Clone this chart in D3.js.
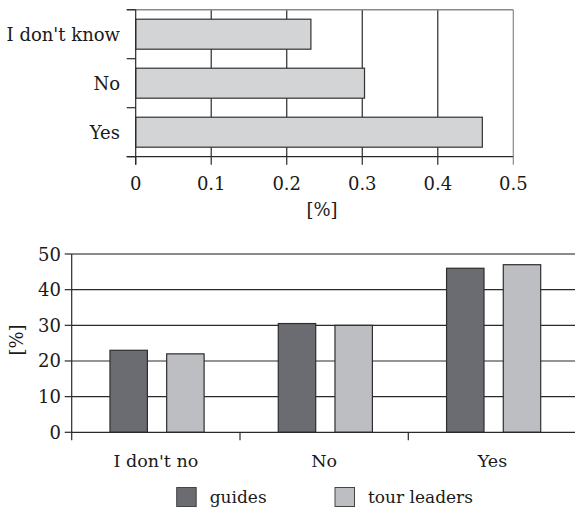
<!DOCTYPE html>
<html>
<head>
<meta charset="utf-8">
<script src="https://cdn.jsdelivr.net/npm/d3@7"></script>
<style>
  body { margin: 0; background: #fff; }
  svg { display: block; }
</style>
</head>
<body>
<svg id="chart" width="575" height="513"></svg>
<script>
// Answer shares (overall), as fractions
const answers = ["I don't know", "No", "Yes"];
const overallShare = [0.232, 0.303, 0.459];
const shareTicks = [0, 0.1, 0.2, 0.3, 0.4, 0.5];

// Answer shares by group, in percent
const groupCategories = ["I don't no", "No", "Yes"];
const seriesNames = ["guides", "tour leaders"];
const guidesPct = [23, 30.5, 46];
const tourLeadersPct = [22, 30, 47];
const pctTicks = [0, 10, 20, 30, 40, 50];

const FONT = "DejaVu Serif, serif";
const svg = d3.select("#chart").style("font-family", FONT);
const dark = "#2a2a2a", light = "#8a8a8a", ink = "#1a1a1a";

// ---------- Horizontal bar chart ----------
{
  const x = d3.scaleLinear().domain([0, 0.5]).range([135.7, 513.3]);
  const y = d3.scaleBand().domain(answers).range([9.7, 156.7])
    .paddingInner(0.388).paddingOuter(0.194);
  const g = svg.append("g");
  const top = y.range()[0], bottom = y.range()[1];

  // vertical gridlines
  g.selectAll(".vg").data(shareTicks.slice(1)).join("line")
    .attr("x1", d => x(d)).attr("x2", d => x(d))
    .attr("y1", top).attr("y2", bottom)
    .attr("stroke", d => d === 0.5 ? light : dark).attr("stroke-width", 1.2);
  // top frame
  g.append("line").attr("x1", x(0) - 9).attr("x2", x(0.5))
    .attr("y1", top).attr("y2", top).attr("stroke", light).attr("stroke-width", 1.5);

  // bars
  g.selectAll(".bar").data(answers).join("rect")
    .attr("x", x(0)).attr("y", d => y(d))
    .attr("width", (d, i) => x(overallShare[i]) - x(0))
    .attr("height", y.bandwidth())
    .attr("fill", "#d3d4d6").attr("stroke", "#333").attr("stroke-width", 1.2);

  // category boundary ticks
  const bounds = answers.map(d => y(d) - y.step() * y.paddingInner() / 2);
  bounds.push(bottom);
  g.selectAll(".ct").data(bounds).join("line")
    .attr("x1", x(0) - 9).attr("x2", x(0)).attr("y1", d => d).attr("y2", d => d)
    .attr("stroke", dark).attr("stroke-width", 1.2);

  // axes
  g.append("line").attr("x1", x(0)).attr("x2", x(0)).attr("y1", top).attr("y2", bottom + 8)
    .attr("stroke", dark).attr("stroke-width", 1.2);
  g.append("line").attr("x1", x(0) - 9).attr("x2", x(0.5)).attr("y1", bottom).attr("y2", bottom)
    .attr("stroke", dark).attr("stroke-width", 1.2);
  g.selectAll(".xt").data(shareTicks).join("line")
    .attr("x1", d => x(d)).attr("x2", d => x(d)).attr("y1", bottom).attr("y2", bottom + 8)
    .attr("stroke", d => d === 0.5 ? light : dark).attr("stroke-width", 1.2);
  g.selectAll(".xl").data(shareTicks).join("text")
    .attr("x", d => x(d)).attr("y", 190).attr("text-anchor", "middle")
    .attr("font-size", 18).attr("fill", ink).text(d => d === 0 ? "0" : d3.format(".1f")(d));
  g.append("text").attr("x", 322).attr("y", 216).attr("text-anchor", "middle")
    .attr("font-size", 18).attr("fill", ink).text("[%]");

  g.selectAll(".yl").data(answers).join("text")
    .attr("x", 120).attr("y", d => y(d) + y.bandwidth() / 2 + 6.5)
    .attr("text-anchor", "end").attr("font-size", 18).attr("fill", ink).text(d => d);
}

// ---------- Grouped column chart ----------
{
  const x0 = d3.scaleBand().domain(groupCategories).range([71.7, 576.6]);
  const x1 = d3.scaleBand().domain(seriesNames).range([0, x0.bandwidth()])
    .paddingInner(0.34).paddingOuter(0.654).align(0.516);
  const y = d3.scaleLinear().domain([0, 50]).range([432.3, 254]);
  const colors = { "guides": "#6b6c71", "tour leaders": "#bdbec2" };
  const values = { "guides": guidesPct, "tour leaders": tourLeadersPct };
  const g = svg.append("g");
  const left = x0.range()[0], right = 575;

  // horizontal gridlines
  g.selectAll(".hg").data(pctTicks.slice(1)).join("line")
    .attr("x1", left).attr("x2", right).attr("y1", d => y(d)).attr("y2", d => y(d))
    .attr("stroke", d => d === 50 ? light : dark).attr("stroke-width", d => d === 50 ? 1.8 : 1.2);

  // bars
  seriesNames.forEach(s => {
    g.selectAll(null).data(groupCategories).join("rect")
      .attr("x", d => x0(d) + x1(s)).attr("width", x1.bandwidth())
      .attr("y", (d, i) => y(values[s][i]))
      .attr("height", (d, i) => y(0) - y(values[s][i]))
      .attr("fill", colors[s]).attr("stroke", "#2e2e2e").attr("stroke-width", 1.2);
  });

  // axes
  g.append("line").attr("x1", left).attr("x2", left).attr("y1", y(50)).attr("y2", y(0) + 8)
    .attr("stroke", dark).attr("stroke-width", 1.2);
  g.append("line").attr("x1", left).attr("x2", right).attr("y1", y(0)).attr("y2", y(0))
    .attr("stroke", dark).attr("stroke-width", 1.2);
  g.selectAll(".yt").data(pctTicks).join("line")
    .attr("x1", left - 7).attr("x2", left).attr("y1", d => y(d)).attr("y2", d => y(d))
    .attr("stroke", dark).attr("stroke-width", 1.2);
  g.selectAll(".ct").data(groupCategories.slice(1)).join("line")
    .attr("x1", d => x0(d)).attr("x2", d => x0(d)).attr("y1", y(0)).attr("y2", y(0) + 8)
    .attr("stroke", dark).attr("stroke-width", 1.2);
  g.selectAll(".yl").data(pctTicks).join("text")
    .attr("x", 61).attr("y", d => y(d) + 6.5).attr("text-anchor", "end")
    .attr("font-size", 18).attr("fill", ink).text(d => d);
  g.append("text").attr("transform", "translate(23,340) rotate(-90)")
    .attr("text-anchor", "middle").attr("font-size", 18).attr("fill", ink).text("[%]");
  g.selectAll(".xl").data(groupCategories).join("text")
    .attr("x", d => x0(d) + x0.bandwidth() / 2).attr("y", 467)
    .attr("text-anchor", "middle").attr("font-size", 17.5).attr("fill", ink).text(d => d);

  // legend
  const legendX = [176.7, 335];
  seriesNames.forEach((s, i) => {
    g.append("rect").attr("x", legendX[i]).attr("y", 487.5).attr("width", 19.5).attr("height", 19)
      .attr("fill", colors[s]).attr("stroke", "#444").attr("stroke-width", 1);
    g.append("text").attr("x", legendX[i] + 33).attr("y", 503)
      .attr("font-size", 17).attr("fill", ink).text(s);
  });
}
</script>
</body>
</html>
